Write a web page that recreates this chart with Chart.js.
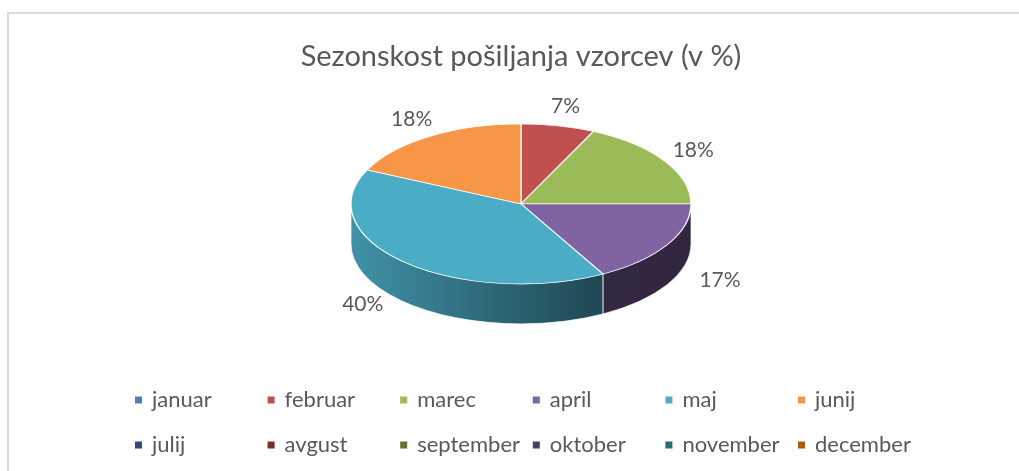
<!DOCTYPE html>
<html>
<head>
<meta charset="utf-8">
<script src="https://cdn.jsdelivr.net/npm/chart.js@4/dist/chart.umd.min.js"></script>
<style>
  html, body { margin: 0; padding: 0; background: #fff; overflow: hidden; }
  #frame { position: absolute; left: 7px; top: 12px; width: 1100px; height: 500px;
           border-top: 2px solid #d9d9d9; border-left: 2px solid #d9d9d9; }
  #chart { position: absolute; left: 0; top: 0; }
</style>
</head>
<body>
<div id="frame"></div>
<canvas id="chart" width="1019" height="471"></canvas>
<script>
// data
const months = ['januar', 'februar', 'marec', 'april', 'maj', 'junij',
                'julij', 'avgust', 'september', 'oktober', 'november', 'december'];
const shares = [0, 7, 18, 17, 40, 18, 0, 0, 0, 0, 0, 0];
const colors = ['#4F81BD', '#C0504D', '#9BBB59', '#8064A2', '#4BACC6', '#F79646',
                '#2C4D75', '#772C2A', '#5F7530', '#4D3B62', '#276A7C', '#B65708'];
const titleText = 'Sezonskost pošiljanja vzorcev (v %)';

const FONT = 'Lato';
const TEXT = '#595959';
const TILT = 80 / 170;   // ellipse height / width
const DEPTH = 40;

function shade(hex, f) {
    let n = parseInt(hex.slice(1), 16);
    let r = Math.round(((n >> 16) & 255) * f);
    let g = Math.round(((n >> 8) & 255) * f);
    let b = Math.round((n & 255) * f);
    return 'rgb(' + r + ',' + g + ',' + b + ')';
}

// fake 3d: draw side walls, then squash the pie into an ellipse
const pie3d = {
    id: 'pie3d',
    beforeDatasetsDraw(chart) {
        let ctx = chart.ctx;
        let arcs = chart.getDatasetMeta(0).data;
        let cx = arcs[0].x, cy = arcs[0].y, r = arcs[0].outerRadius;
        let ry = r * TILT;
        arcs.forEach((arc, i) => {
            if (arc.endAngle - arc.startAngle <= 0) return;
            for (let k = -1; k <= 1; k++) {
                let a = Math.max(arc.startAngle, 2 * Math.PI * k);
                let b = Math.min(arc.endAngle, 2 * Math.PI * k + Math.PI);
                if (b <= a) continue;
                let grad = ctx.createLinearGradient(cx - r, 0, cx + r, 0);
                grad.addColorStop(0, shade(colors[i], 0.85));
                grad.addColorStop(0.77, shade(colors[i], 0.4));
                grad.addColorStop(1, shade(colors[i], 0.38));
                ctx.beginPath();
                ctx.ellipse(cx, cy, r, ry, 0, a, b, false);
                ctx.ellipse(cx, cy + DEPTH, r, ry, 0, b, a, true);
                ctx.closePath();
                ctx.fillStyle = grad;
                ctx.fill();
                ctx.strokeStyle = 'rgba(255,255,255,0.7)';
                ctx.lineWidth = 1;
                ctx.stroke();
            }
        });
        ctx.save();
        ctx.translate(0, cy);
        ctx.scale(1, TILT);
        ctx.translate(0, -cy);
    },
    afterDatasetsDraw(chart) {
        let ctx = chart.ctx;
        ctx.restore();
        let arcs = chart.getDatasetMeta(0).data;
        let cx = arcs[0].x, cy = arcs[0].y, r = arcs[0].outerRadius;
        let ry = r * TILT;
        ctx.save();
        ctx.font = '21px ' + FONT;
        ctx.fillStyle = TEXT;
        ctx.textAlign = 'center';
        ctx.textBaseline = 'middle';
        arcs.forEach((arc, i) => {
            if (!shares[i]) return;
            let mid = (arc.startAngle + arc.endAngle) / 2;
            let s = Math.sin(mid);
            let x, y;
            if (s < 0) {
                x = cx + Math.cos(mid) * r * 1.2;
                y = cy + s * ry * 1.25;
            } else {
                x = cx + Math.cos(mid) * r * 1.36;
                y = cy + s * ry * 1.375 + DEPTH * 0.5;
            }
            ctx.fillText(shares[i] + '%', x, y);
        });
        ctx.restore();
    },
    afterDraw(chart) {
        // legend in excel-like grid, 6 per row
        let ctx = chart.ctx;
        ctx.save();
        ctx.font = '22px ' + FONT;
        ctx.textBaseline = 'middle';
        ctx.textAlign = 'left';
        months.forEach((m, i) => {
            let col = i % 6, row = Math.floor(i / 6);
            let x = 135 + col * 132.6;
            let y = 400 + row * 45;
            ctx.fillStyle = colors[i];
            ctx.fillRect(x, y - 3.5, 7, 7);
            ctx.fillStyle = TEXT;
            ctx.fillText(m, x + 17, y);
        });
        ctx.restore();
    }
};

new Chart(document.getElementById('chart'), {
    type: 'pie',
    data: {
        labels: months,
        datasets: [{
            data: shares,
            backgroundColor: colors,
            borderColor: 'rgba(255,255,255,0.85)',
            borderWidth: 1.5,
            radius: 170,
            clip: false
        }]
    },
    options: {
        responsive: false,
        animation: false,
        devicePixelRatio: 1,
        events: [],
        layout: { padding: { left: 23, right: 0, top: 0, bottom: 143 } },
        plugins: {
            title: {
                display: true,
                text: titleText,
                color: TEXT,
                font: { family: FONT, size: 29, weight: 'normal' },
                padding: { top: 39, bottom: 6 }
            },
            legend: { display: false },
            tooltip: { enabled: false }
        }
    },
    plugins: [pie3d]
});
</script>
</body>
</html>
